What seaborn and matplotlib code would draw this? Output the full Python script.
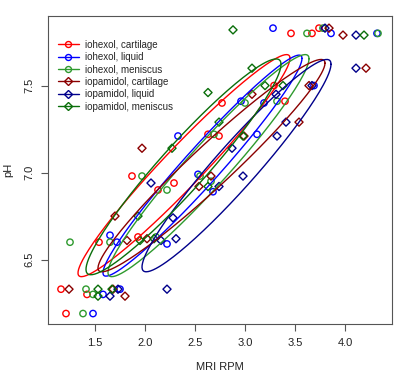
import numpy as np
import pandas as pd
import seaborn as sns
import matplotlib.pyplot as plt
from matplotlib.lines import Line2D

# values (MRI RPM, pH)
ihx_cart_x = [3.46, 3.67, 3.74, 2.77, 3.29, 3.40, 2.63, 2.74, 2.29, 2.13, 1.87, 1.54, 1.93, 1.16, 1.42, 1.21]
ihx_cart_y = [7.80, 7.80, 7.83, 7.40, 7.50, 7.41, 7.22, 7.21, 6.94, 6.90, 6.98, 6.60, 6.63, 6.33, 6.30, 6.19]

ihx_liq_x = [3.28, 3.86, 4.32, 3.69, 2.96, 3.19, 3.12, 2.33, 2.53, 2.68, 2.22, 1.65, 1.72, 1.58, 1.75, 1.48]
ihx_liq_y = [7.83, 7.80, 7.80, 7.50, 7.41, 7.40, 7.22, 7.21, 6.99, 6.89, 6.59, 6.64, 6.60, 6.30, 6.33, 6.19]

ihx_men_x = [3.62, 3.78, 4.33, 3.00, 3.32, 2.69, 2.55, 2.66, 1.97, 2.22, 1.25, 1.65, 2.11, 1.41, 1.48, 1.38]
ihx_men_y = [7.80, 7.83, 7.80, 7.40, 7.41, 7.22, 6.98, 6.95, 6.98, 6.90, 6.60, 6.60, 6.63, 6.33, 6.30, 6.19]

ipd_cart_x = [3.84, 3.98, 4.21, 3.64, 3.07, 3.54, 2.99, 2.66, 2.54, 1.97, 1.70, 1.82, 2.02, 1.24, 1.68, 1.80]
ipd_cart_y = [7.83, 7.79, 7.60, 7.50, 7.45, 7.29, 7.21, 6.98, 6.92, 7.14, 6.75, 6.61, 6.62, 6.33, 6.33, 6.29]

ipd_liq_x = [3.80, 4.11, 4.11, 3.67, 3.31, 3.41, 3.32, 2.87, 2.98, 2.74, 2.06, 2.28, 2.16, 2.31, 1.65, 1.73, 2.22]
ipd_liq_y = [7.83, 7.79, 7.60, 7.50, 7.45, 7.29, 7.21, 7.14, 6.98, 6.92, 6.94, 6.74, 6.61, 6.62, 6.29, 6.33, 6.33]

ipd_men_x = [2.88, 4.19, 3.07, 2.63, 3.20, 3.38, 2.74, 2.98, 2.27, 2.63, 1.93, 1.95, 2.09, 1.53, 1.53, 1.67]
ipd_men_y = [7.82, 7.79, 7.60, 7.46, 7.50, 7.50, 7.29, 7.21, 7.14, 6.92, 6.75, 6.61, 6.62, 6.33, 6.29, 6.33]

# ellipse summaries: centre, half x-range, half y-range, correlation
ell_cx = [2.39, 2.575, 2.635, 2.665, 2.915, 2.385]
ell_cy = [7.04, 7.04, 7.04, 7.04, 7.04, 7.033]
ell_ax = [1.06, 0.995, 1.005, 1.135, 0.945, 0.975]
ell_ay = [0.638, 0.635, 0.638, 0.61, 0.61, 0.62]
ell_rho = [0.967, 0.970, 0.962, 0.965, 0.955, 0.950]

labels = ["iohexol, cartilage", "iohexol, liquid", "iohexol, meniscus",
          "iopamidol, cartilage", "iopamidol, liquid", "iopamidol, meniscus"]
colors = ["#ff0000", "#0000ff", "#2e9a2e", "#8b0000", "#00008b", "#0a6e0a"]
markers = ["o", "o", "o", "D", "D", "D"]

xs = [ihx_cart_x, ihx_liq_x, ihx_men_x, ipd_cart_x, ipd_liq_x, ipd_men_x]
ys = [ihx_cart_y, ihx_liq_y, ihx_men_y, ipd_cart_y, ipd_liq_y, ipd_men_y]


def ellipse_path(cx, cy, ax_, ay_, rho, n_pts=200):
    t = np.linspace(0, 2 * np.pi, n_pts)
    phi = np.arccos(rho)
    return cx + ax_ * np.cos(t), cy + ay_ * np.cos(t - phi)


sns.set_style("white")
plt.rcParams["font.family"] = ["Liberation Sans", "DejaVu Sans"]

fig = plt.figure(figsize=(4.0, 3.8), dpi=100)
ax = fig.add_axes([0.12, 0.1474, 0.86, 0.8106])

for i in range(len(labels)):
    df = pd.DataFrame({"rpm": xs[i], "ph": ys[i]})
    sns.scatterplot(data=df, x="rpm", y="ph", marker=markers[i],
                    facecolor="none", edgecolor=colors[i],
                    s=21 if markers[i] == "o" else 17, linewidth=1.0, ax=ax)

for i in range(len(labels)):
    ex, ey = ellipse_path(ell_cx[i], ell_cy[i], ell_ax[i], ell_ay[i], ell_rho[i])
    ax.plot(ex, ey, color=colors[i], lw=1.0)

ax.set_xlim(1.03, 4.47)
ax.set_ylim(6.13, 7.90)
ax.set_xticks([1.5, 2.0, 2.5, 3.0, 3.5, 4.0])
ax.set_yticks([6.5, 7.0, 7.5])
ax.set_xticklabels(["1.5", "2.0", "2.5", "3.0", "3.5", "4.0"])
ax.set_yticklabels(["6.5", "7.0", "7.5"], rotation=90, va="center")
ax.tick_params(axis="both", length=5, width=0.8, color="#555555",
               labelsize=8, pad=5, labelcolor="#222222",
               bottom=True, left=True)
for sp in ax.spines.values():
    sp.set_color("#555555")
    sp.set_linewidth(0.8)

ax.set_xlabel("MRI RPM", fontsize=8, labelpad=10, color="#222222")
ax.set_ylabel("pH", fontsize=8, labelpad=8, color="#222222")

handles = [Line2D([0], [0], color=colors[i], marker=markers[i], lw=1.0,
                  markerfacecolor="none", markeredgecolor=colors[i],
                  markersize=4.3 if markers[i] == "o" else 3.8, markeredgewidth=1.0)
           for i in range(len(labels))]
ax.legend(handles, labels, loc="upper left", frameon=False, fontsize=7,
          handlelength=2.2, handletextpad=0.6, labelspacing=0.25,
          bbox_to_anchor=(0.0, 0.955), borderaxespad=0.6)

fig.savefig("out.png", dpi=100)
